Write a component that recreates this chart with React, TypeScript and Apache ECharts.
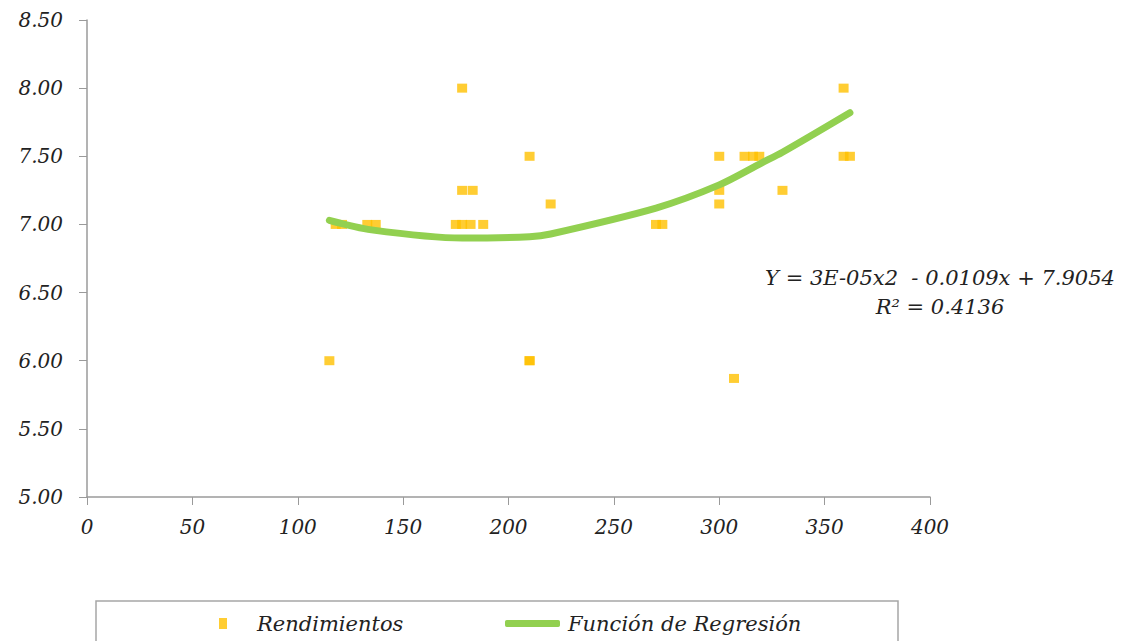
import React, { useEffect, useRef } from "react";
import * as echarts from "echarts";

const pointX = [115, 118, 121, 133, 137, 175, 178, 182, 178, 178, 183, 188, 210, 210, 220, 210, 270, 273, 300, 300, 300, 307, 312, 316, 319, 330, 359, 359, 362];
const pointY = [6.0, 7.0, 7.0, 7.0, 7.0, 7.0, 7.0, 7.0, 8.0, 7.25, 7.25, 7.0, 7.5, 6.0, 7.15, 6.0, 7.0, 7.0, 7.5, 7.25, 7.15, 5.87, 7.5, 7.5, 7.5, 7.25, 8.0, 7.5, 7.5];

const curveX = [115, 135, 178, 210, 220, 270, 300, 320, 330, 362];
const curveY = [7.03, 6.96, 6.9, 6.91, 6.93, 7.12, 7.29, 7.45, 7.53, 7.82];

const equationLines = ["Y = 3E-05x2  - 0.0109x + 7.9054", "R² = 0.4136"];
const seriesNames = ["Rendimientos", "Función de Regresión"];

const FONT = "'DejaVu Serif', 'Liberation Serif', serif";

export default function App() {
  const ref = useRef<HTMLDivElement>(null);
  useEffect(() => {
    if (!ref.current) return;
    const chart = echarts.init(ref.current, undefined, { renderer: "svg" });
    const axisLabel = { fontFamily: FONT, fontStyle: "italic", fontSize: 20, color: "#222" };
    chart.setOption({
      animation: false,
      backgroundColor: "#fff",
      grid: { left: 87, right: 206, top: 20, bottom: 144 },
      xAxis: {
        type: "value",
        min: 0,
        max: 400,
        interval: 50,
        axisLine: { lineStyle: { color: "#9a9a9a", width: 1.5 } },
        axisTick: { show: true, length: 8, lineStyle: { color: "#9a9a9a" } },
        splitLine: { show: false },
        axisLabel: { ...axisLabel, margin: 20 },
      },
      yAxis: {
        type: "value",
        min: 5,
        max: 8.5,
        interval: 0.5,
        axisLine: { show: true, lineStyle: { color: "#9a9a9a", width: 1.5 } },
        axisTick: { show: true, length: 8, lineStyle: { color: "#9a9a9a" } },
        splitLine: { show: false },
        axisLabel: { ...axisLabel, margin: 24, formatter: (v: number) => v.toFixed(2) },
      },
      legend: [
        {
          data: [seriesNames[0]],
          left: 214,
          top: 608,
          itemWidth: 8,
          itemHeight: 11,
          icon: "rect",
          textStyle: { fontFamily: FONT, fontStyle: "italic", fontSize: 21, color: "#222", padding: [0, 0, 0, 25] },
        },
        {
          data: [seriesNames[1]],
          left: 500,
          top: 608,
          itemWidth: 55,
          itemHeight: 7,
          icon: "roundRect",
          textStyle: { fontFamily: FONT, fontStyle: "italic", fontSize: 21, color: "#222", padding: [0, 0, 0, 3] },
        },
      ],
      graphic: [
        {
          type: "rect",
          shape: { x: 96, y: 601, width: 802, height: 60 },
          style: { fill: "none", stroke: "#a6a6a6", lineWidth: 1.5 },
          silent: true,
        },
        {
          type: "text",
          x: 940,
          y: 278,
          style: {
            text: equationLines[0],
            fontFamily: FONT,
            fontStyle: "italic",
            fontSize: 21,
            fill: "#222",
            align: "center",
            verticalAlign: "middle",
          },
        },
        {
          type: "text",
          x: 940,
          y: 307,
          style: {
            text: equationLines[1],
            fontFamily: FONT,
            fontStyle: "italic",
            fontSize: 21,
            fill: "#222",
            align: "center",
            verticalAlign: "middle",
          },
        },
      ],
      series: [
        {
          name: seriesNames[0],
          type: "scatter",
          symbol: "rect",
          symbolSize: [10, 9],
          itemStyle: { color: "#FFC000" },
          data: pointX.map((x, i) => [x, pointY[i]]),
          z: 2,
        },
        {
          name: seriesNames[1],
          type: "line",
          smooth: 0.3,
          showSymbol: false,
          symbol: "none",
          lineStyle: { color: "#92D050", width: 7, cap: "round" },
          itemStyle: { color: "#92D050" },
          data: curveX.map((x, i) => [x, curveY[i]]),
          z: 3,
        },
      ],
    });
    return () => chart.dispose();
  }, []);
  return <div ref={ref} style={{ width: 1136, height: 641, position: "absolute", left: 0, top: 0 }} />;
}
